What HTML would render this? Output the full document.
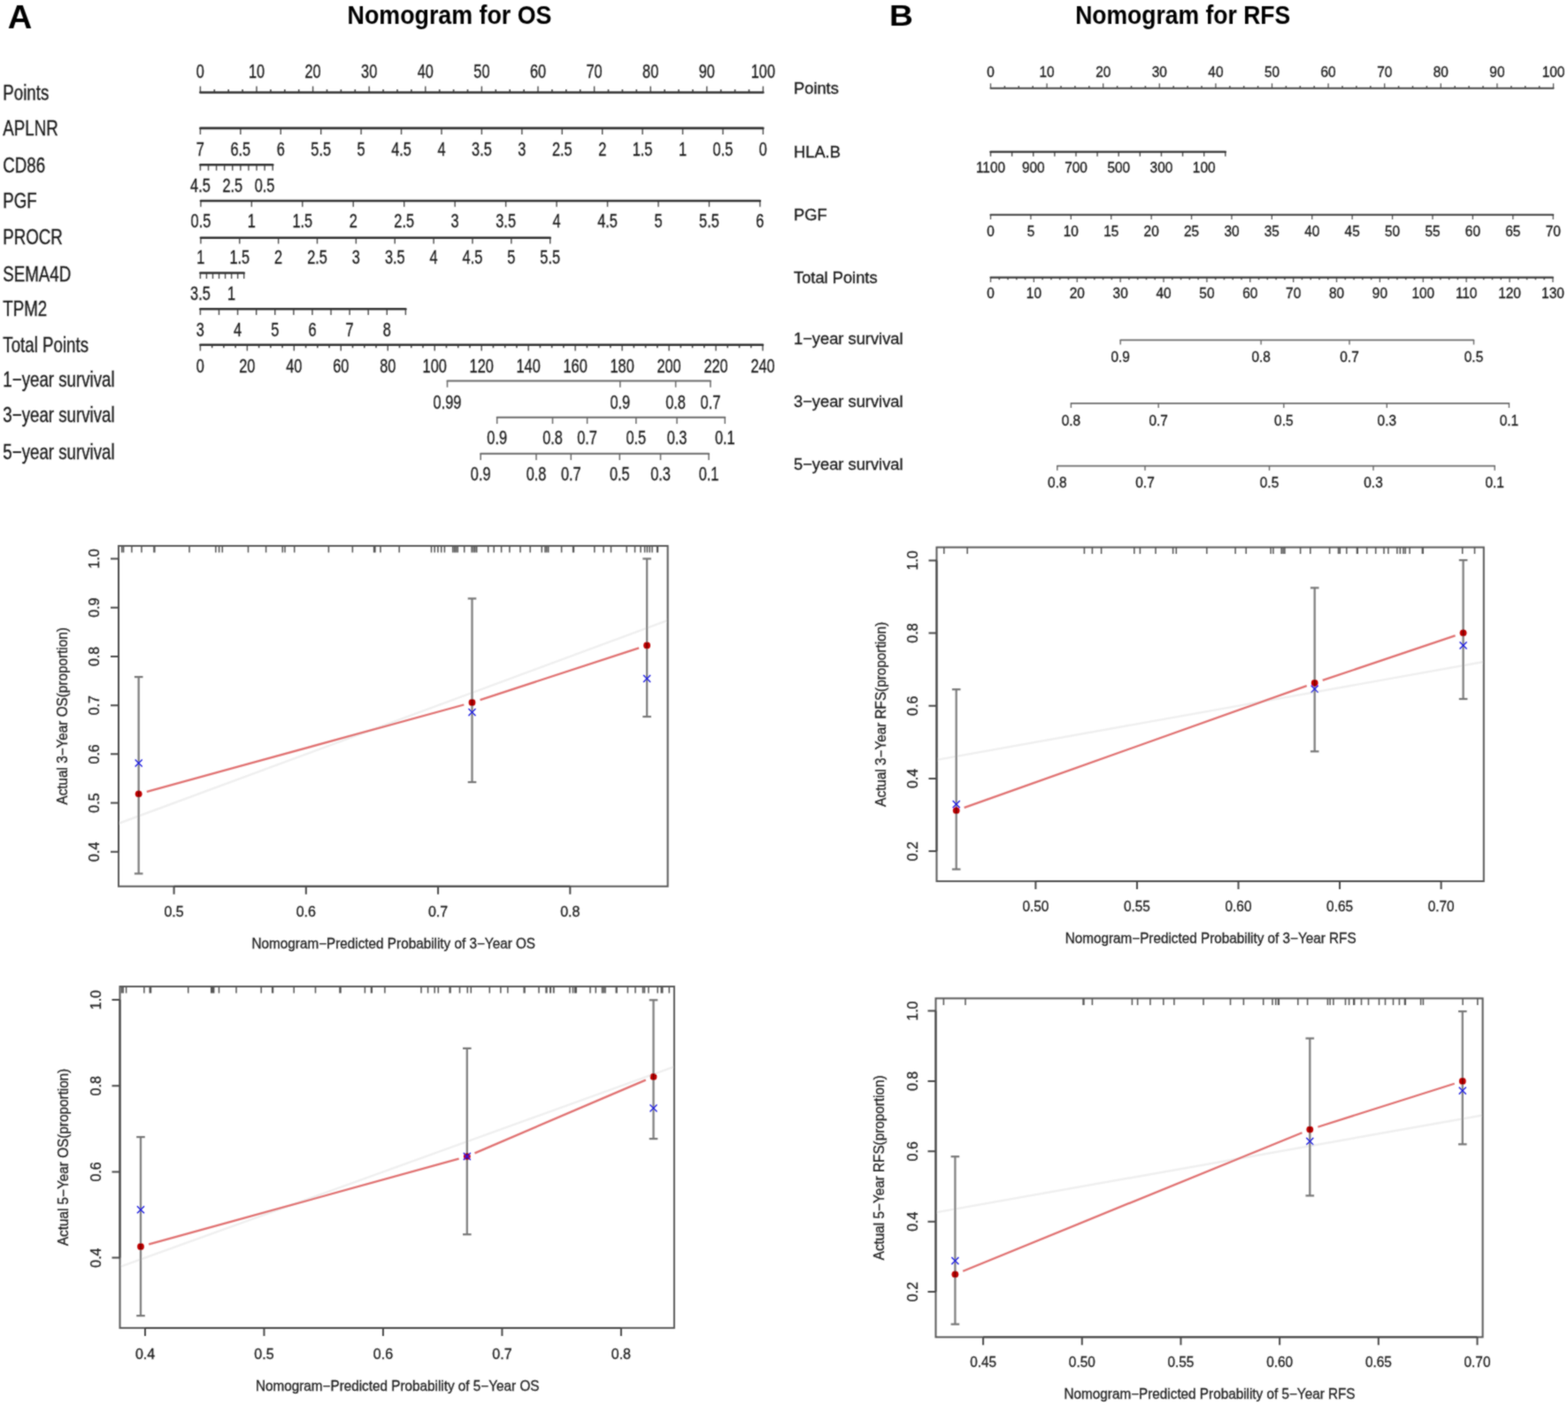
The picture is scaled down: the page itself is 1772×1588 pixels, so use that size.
<!DOCTYPE html>
<html><head><meta charset="utf-8"><title>Nomograms and calibration curves</title>
<style>
html,body{margin:0;padding:0;background:#fff;}
body{width:1772px;height:1588px;overflow:hidden;}
svg{display:block;}
text{font-family:"Liberation Sans",Arial,sans-serif;}
</style></head><body>
<svg width="1772" height="1588" viewBox="0 0 1772 1588">
<defs><filter id="soft" x="-1%" y="-1%" width="102%" height="102%"><feConvolveMatrix order="3" kernelMatrix="1 2 1 2 8 2 1 2 1" divisor="20" edgeMode="none" preserveAlpha="false"/></filter></defs>
<rect width="1772" height="1588" fill="#fff"/>
<g filter="url(#soft)">
<text transform="translate(8.8,32) scale(1.03,1)" font-size="37" fill="#000" font-weight="bold">A</text>
<text transform="translate(1005,29.3) scale(1.13,1)" font-size="33" fill="#000" font-weight="bold">B</text>
<text transform="translate(508,27.1) scale(0.9,1)" font-size="29.8" fill="#000" text-anchor="middle" font-weight="bold">Nomogram for OS</text>
<text transform="translate(1336.7,27.2) scale(0.89,1)" font-size="29.8" fill="#000" text-anchor="middle" font-weight="bold">Nomogram for RFS</text>
<text transform="translate(3.3,113) scale(0.78,1)" font-size="24" fill="#1a1a1a" stroke="#1a1a1a" stroke-width="0.3">Points</text>
<text transform="translate(3.3,153.3) scale(0.78,1)" font-size="24" fill="#1a1a1a" stroke="#1a1a1a" stroke-width="0.3">APLNR</text>
<text transform="translate(3.3,195) scale(0.78,1)" font-size="24" fill="#1a1a1a" stroke="#1a1a1a" stroke-width="0.3">CD86</text>
<text transform="translate(3.3,234.6) scale(0.78,1)" font-size="24" fill="#1a1a1a" stroke="#1a1a1a" stroke-width="0.3">PGF</text>
<text transform="translate(3.3,276) scale(0.78,1)" font-size="24" fill="#1a1a1a" stroke="#1a1a1a" stroke-width="0.3">PROCR</text>
<text transform="translate(3.3,317.5) scale(0.78,1)" font-size="24" fill="#1a1a1a" stroke="#1a1a1a" stroke-width="0.3">SEMA4D</text>
<text transform="translate(3.3,357) scale(0.78,1)" font-size="24" fill="#1a1a1a" stroke="#1a1a1a" stroke-width="0.3">TPM2</text>
<text transform="translate(3.3,398) scale(0.78,1)" font-size="24" fill="#1a1a1a" stroke="#1a1a1a" stroke-width="0.3">Total Points</text>
<text transform="translate(3.3,437.2) scale(0.78,1)" font-size="24" fill="#1a1a1a" stroke="#1a1a1a" stroke-width="0.3">1−year survival</text>
<text transform="translate(3.3,477.3) scale(0.78,1)" font-size="24" fill="#1a1a1a" stroke="#1a1a1a" stroke-width="0.3">3−year survival</text>
<text transform="translate(3.3,518.5) scale(0.78,1)" font-size="24" fill="#1a1a1a" stroke="#1a1a1a" stroke-width="0.3">5−year survival</text>
<path d="M226.4 104.5v-7M290 104.5v-7M353.6 104.5v-7M417.2 104.5v-7M480.8 104.5v-7M544.4 104.5v-7M608 104.5v-7M671.6 104.5v-7M735.2 104.5v-7M798.8 104.5v-7M862.4 104.5v-7" stroke="#4a4a4a" stroke-width="1.4" fill="none"/>
<path d="M242.3 104.5v-3.6M258.2 104.5v-3.6M274.1 104.5v-3.6M305.9 104.5v-3.6M321.8 104.5v-3.6M337.7 104.5v-3.6M369.5 104.5v-3.6M385.4 104.5v-3.6M401.3 104.5v-3.6M433.1 104.5v-3.6M449 104.5v-3.6M464.9 104.5v-3.6M496.7 104.5v-3.6M512.6 104.5v-3.6M528.5 104.5v-3.6M560.3 104.5v-3.6M576.2 104.5v-3.6M592.1 104.5v-3.6M623.9 104.5v-3.6M639.8 104.5v-3.6M655.7 104.5v-3.6M687.5 104.5v-3.6M703.4 104.5v-3.6M719.3 104.5v-3.6M751.1 104.5v-3.6M767 104.5v-3.6M782.9 104.5v-3.6M814.7 104.5v-3.6M830.6 104.5v-3.6M846.5 104.5v-3.6" stroke="#4a4a4a" stroke-width="1.6" fill="none"/>
<line x1="226.4" y1="104.5" x2="862.4" y2="104.5" stroke="#333" stroke-width="2.6" stroke-linecap="round"/>
<text transform="translate(226.4,88) scale(0.76,1)" font-size="21.5" fill="#1a1a1a" text-anchor="middle" stroke="#1a1a1a" stroke-width="0.3">0</text>
<text transform="translate(290,88) scale(0.76,1)" font-size="21.5" fill="#1a1a1a" text-anchor="middle" stroke="#1a1a1a" stroke-width="0.3">10</text>
<text transform="translate(353.6,88) scale(0.76,1)" font-size="21.5" fill="#1a1a1a" text-anchor="middle" stroke="#1a1a1a" stroke-width="0.3">20</text>
<text transform="translate(417.2,88) scale(0.76,1)" font-size="21.5" fill="#1a1a1a" text-anchor="middle" stroke="#1a1a1a" stroke-width="0.3">30</text>
<text transform="translate(480.8,88) scale(0.76,1)" font-size="21.5" fill="#1a1a1a" text-anchor="middle" stroke="#1a1a1a" stroke-width="0.3">40</text>
<text transform="translate(544.4,88) scale(0.76,1)" font-size="21.5" fill="#1a1a1a" text-anchor="middle" stroke="#1a1a1a" stroke-width="0.3">50</text>
<text transform="translate(608,88) scale(0.76,1)" font-size="21.5" fill="#1a1a1a" text-anchor="middle" stroke="#1a1a1a" stroke-width="0.3">60</text>
<text transform="translate(671.6,88) scale(0.76,1)" font-size="21.5" fill="#1a1a1a" text-anchor="middle" stroke="#1a1a1a" stroke-width="0.3">70</text>
<text transform="translate(735.2,88) scale(0.76,1)" font-size="21.5" fill="#1a1a1a" text-anchor="middle" stroke="#1a1a1a" stroke-width="0.3">80</text>
<text transform="translate(798.8,88) scale(0.76,1)" font-size="21.5" fill="#1a1a1a" text-anchor="middle" stroke="#1a1a1a" stroke-width="0.3">90</text>
<text transform="translate(862.4,88) scale(0.76,1)" font-size="21.5" fill="#1a1a1a" text-anchor="middle" stroke="#1a1a1a" stroke-width="0.3">100</text>
<path d="M226.4 144.9v7M271.83 144.9v7M317.26 144.9v7M362.69 144.9v7M408.11 144.9v7M453.54 144.9v7M498.97 144.9v7M544.4 144.9v7M589.83 144.9v7M635.26 144.9v7M680.69 144.9v7M726.11 144.9v7M771.54 144.9v7M816.97 144.9v7M862.4 144.9v7" stroke="#4a4a4a" stroke-width="1.4" fill="none"/>
<line x1="226.4" y1="144.9" x2="862.4" y2="144.9" stroke="#333" stroke-width="2.6" stroke-linecap="round"/>
<text transform="translate(226.4,176.3) scale(0.76,1)" font-size="21.5" fill="#1a1a1a" text-anchor="middle" stroke="#1a1a1a" stroke-width="0.3">7</text>
<text transform="translate(271.83,176.3) scale(0.76,1)" font-size="21.5" fill="#1a1a1a" text-anchor="middle" stroke="#1a1a1a" stroke-width="0.3">6.5</text>
<text transform="translate(317.26,176.3) scale(0.76,1)" font-size="21.5" fill="#1a1a1a" text-anchor="middle" stroke="#1a1a1a" stroke-width="0.3">6</text>
<text transform="translate(362.69,176.3) scale(0.76,1)" font-size="21.5" fill="#1a1a1a" text-anchor="middle" stroke="#1a1a1a" stroke-width="0.3">5.5</text>
<text transform="translate(408.11,176.3) scale(0.76,1)" font-size="21.5" fill="#1a1a1a" text-anchor="middle" stroke="#1a1a1a" stroke-width="0.3">5</text>
<text transform="translate(453.54,176.3) scale(0.76,1)" font-size="21.5" fill="#1a1a1a" text-anchor="middle" stroke="#1a1a1a" stroke-width="0.3">4.5</text>
<text transform="translate(498.97,176.3) scale(0.76,1)" font-size="21.5" fill="#1a1a1a" text-anchor="middle" stroke="#1a1a1a" stroke-width="0.3">4</text>
<text transform="translate(544.4,176.3) scale(0.76,1)" font-size="21.5" fill="#1a1a1a" text-anchor="middle" stroke="#1a1a1a" stroke-width="0.3">3.5</text>
<text transform="translate(589.83,176.3) scale(0.76,1)" font-size="21.5" fill="#1a1a1a" text-anchor="middle" stroke="#1a1a1a" stroke-width="0.3">3</text>
<text transform="translate(635.26,176.3) scale(0.76,1)" font-size="21.5" fill="#1a1a1a" text-anchor="middle" stroke="#1a1a1a" stroke-width="0.3">2.5</text>
<text transform="translate(680.69,176.3) scale(0.76,1)" font-size="21.5" fill="#1a1a1a" text-anchor="middle" stroke="#1a1a1a" stroke-width="0.3">2</text>
<text transform="translate(726.11,176.3) scale(0.76,1)" font-size="21.5" fill="#1a1a1a" text-anchor="middle" stroke="#1a1a1a" stroke-width="0.3">1.5</text>
<text transform="translate(771.54,176.3) scale(0.76,1)" font-size="21.5" fill="#1a1a1a" text-anchor="middle" stroke="#1a1a1a" stroke-width="0.3">1</text>
<text transform="translate(816.97,176.3) scale(0.76,1)" font-size="21.5" fill="#1a1a1a" text-anchor="middle" stroke="#1a1a1a" stroke-width="0.3">0.5</text>
<text transform="translate(862.4,176.3) scale(0.76,1)" font-size="21.5" fill="#1a1a1a" text-anchor="middle" stroke="#1a1a1a" stroke-width="0.3">0</text>
<path d="M226.4 186.3v6.5M235.49 186.3v6.5M244.58 186.3v6.5M253.67 186.3v6.5M262.76 186.3v6.5M271.84 186.3v6.5M280.93 186.3v6.5M290.02 186.3v6.5M299.11 186.3v6.5M308.2 186.3v6.5" stroke="#4a4a4a" stroke-width="1.4" fill="none"/>
<line x1="226.4" y1="186.3" x2="308.2" y2="186.3" stroke="#333" stroke-width="2.6" stroke-linecap="round"/>
<text transform="translate(226.4,216.6) scale(0.76,1)" font-size="21.5" fill="#1a1a1a" text-anchor="middle" stroke="#1a1a1a" stroke-width="0.3">4.5</text>
<text transform="translate(262.76,216.6) scale(0.76,1)" font-size="21.5" fill="#1a1a1a" text-anchor="middle" stroke="#1a1a1a" stroke-width="0.3">2.5</text>
<text transform="translate(299.11,216.6) scale(0.76,1)" font-size="21.5" fill="#1a1a1a" text-anchor="middle" stroke="#1a1a1a" stroke-width="0.3">0.5</text>
<path d="M226.9 227v6.8M284.35 227v6.8M341.81 227v6.8M399.26 227v6.8M456.72 227v6.8M514.17 227v6.8M571.63 227v6.8M629.08 227v6.8M686.54 227v6.8M743.99 227v6.8M801.45 227v6.8M858.9 227v6.8" stroke="#4a4a4a" stroke-width="1.4" fill="none"/>
<line x1="226.9" y1="227" x2="858.9" y2="227" stroke="#333" stroke-width="2.6" stroke-linecap="round"/>
<text transform="translate(226.9,257.2) scale(0.76,1)" font-size="21.5" fill="#1a1a1a" text-anchor="middle" stroke="#1a1a1a" stroke-width="0.3">0.5</text>
<text transform="translate(284.35,257.2) scale(0.76,1)" font-size="21.5" fill="#1a1a1a" text-anchor="middle" stroke="#1a1a1a" stroke-width="0.3">1</text>
<text transform="translate(341.81,257.2) scale(0.76,1)" font-size="21.5" fill="#1a1a1a" text-anchor="middle" stroke="#1a1a1a" stroke-width="0.3">1.5</text>
<text transform="translate(399.26,257.2) scale(0.76,1)" font-size="21.5" fill="#1a1a1a" text-anchor="middle" stroke="#1a1a1a" stroke-width="0.3">2</text>
<text transform="translate(456.72,257.2) scale(0.76,1)" font-size="21.5" fill="#1a1a1a" text-anchor="middle" stroke="#1a1a1a" stroke-width="0.3">2.5</text>
<text transform="translate(514.17,257.2) scale(0.76,1)" font-size="21.5" fill="#1a1a1a" text-anchor="middle" stroke="#1a1a1a" stroke-width="0.3">3</text>
<text transform="translate(571.63,257.2) scale(0.76,1)" font-size="21.5" fill="#1a1a1a" text-anchor="middle" stroke="#1a1a1a" stroke-width="0.3">3.5</text>
<text transform="translate(629.08,257.2) scale(0.76,1)" font-size="21.5" fill="#1a1a1a" text-anchor="middle" stroke="#1a1a1a" stroke-width="0.3">4</text>
<text transform="translate(686.54,257.2) scale(0.76,1)" font-size="21.5" fill="#1a1a1a" text-anchor="middle" stroke="#1a1a1a" stroke-width="0.3">4.5</text>
<text transform="translate(743.99,257.2) scale(0.76,1)" font-size="21.5" fill="#1a1a1a" text-anchor="middle" stroke="#1a1a1a" stroke-width="0.3">5</text>
<text transform="translate(801.45,257.2) scale(0.76,1)" font-size="21.5" fill="#1a1a1a" text-anchor="middle" stroke="#1a1a1a" stroke-width="0.3">5.5</text>
<text transform="translate(858.9,257.2) scale(0.76,1)" font-size="21.5" fill="#1a1a1a" text-anchor="middle" stroke="#1a1a1a" stroke-width="0.3">6</text>
<path d="M226.9 268.8v6.8M270.77 268.8v6.8M314.63 268.8v6.8M358.5 268.8v6.8M402.37 268.8v6.8M446.23 268.8v6.8M490.1 268.8v6.8M533.97 268.8v6.8M577.83 268.8v6.8M621.7 268.8v6.8" stroke="#4a4a4a" stroke-width="1.4" fill="none"/>
<line x1="226.9" y1="268.8" x2="621.7" y2="268.8" stroke="#333" stroke-width="2.6" stroke-linecap="round"/>
<text transform="translate(226.9,298.3) scale(0.76,1)" font-size="21.5" fill="#1a1a1a" text-anchor="middle" stroke="#1a1a1a" stroke-width="0.3">1</text>
<text transform="translate(270.77,298.3) scale(0.76,1)" font-size="21.5" fill="#1a1a1a" text-anchor="middle" stroke="#1a1a1a" stroke-width="0.3">1.5</text>
<text transform="translate(314.63,298.3) scale(0.76,1)" font-size="21.5" fill="#1a1a1a" text-anchor="middle" stroke="#1a1a1a" stroke-width="0.3">2</text>
<text transform="translate(358.5,298.3) scale(0.76,1)" font-size="21.5" fill="#1a1a1a" text-anchor="middle" stroke="#1a1a1a" stroke-width="0.3">2.5</text>
<text transform="translate(402.37,298.3) scale(0.76,1)" font-size="21.5" fill="#1a1a1a" text-anchor="middle" stroke="#1a1a1a" stroke-width="0.3">3</text>
<text transform="translate(446.23,298.3) scale(0.76,1)" font-size="21.5" fill="#1a1a1a" text-anchor="middle" stroke="#1a1a1a" stroke-width="0.3">3.5</text>
<text transform="translate(490.1,298.3) scale(0.76,1)" font-size="21.5" fill="#1a1a1a" text-anchor="middle" stroke="#1a1a1a" stroke-width="0.3">4</text>
<text transform="translate(533.97,298.3) scale(0.76,1)" font-size="21.5" fill="#1a1a1a" text-anchor="middle" stroke="#1a1a1a" stroke-width="0.3">4.5</text>
<text transform="translate(577.83,298.3) scale(0.76,1)" font-size="21.5" fill="#1a1a1a" text-anchor="middle" stroke="#1a1a1a" stroke-width="0.3">5</text>
<text transform="translate(621.7,298.3) scale(0.76,1)" font-size="21.5" fill="#1a1a1a" text-anchor="middle" stroke="#1a1a1a" stroke-width="0.3">5.5</text>
<path d="M226.4 308.5v6.6M233.44 308.5v6.6M240.49 308.5v6.6M247.53 308.5v6.6M254.57 308.5v6.6M261.61 308.5v6.6M268.66 308.5v6.6M275.7 308.5v6.6" stroke="#4a4a4a" stroke-width="1.4" fill="none"/>
<line x1="226.4" y1="308.5" x2="275.7" y2="308.5" stroke="#333" stroke-width="2.6" stroke-linecap="round"/>
<text transform="translate(226.4,339.4) scale(0.76,1)" font-size="21.5" fill="#1a1a1a" text-anchor="middle" stroke="#1a1a1a" stroke-width="0.3">3.5</text>
<text transform="translate(261.61,339.4) scale(0.76,1)" font-size="21.5" fill="#1a1a1a" text-anchor="middle" stroke="#1a1a1a" stroke-width="0.3">1</text>
<path d="M226.4 349.3v6.8M247.49 349.3v6.8M268.58 349.3v6.8M289.67 349.3v6.8M310.76 349.3v6.8M331.85 349.3v6.8M352.95 349.3v6.8M374.04 349.3v6.8M395.13 349.3v6.8M416.22 349.3v6.8M437.31 349.3v6.8M458.4 349.3v6.8" stroke="#4a4a4a" stroke-width="1.4" fill="none"/>
<line x1="226.4" y1="349.3" x2="458.4" y2="349.3" stroke="#333" stroke-width="2.6" stroke-linecap="round"/>
<text transform="translate(226.4,380.4) scale(0.76,1)" font-size="21.5" fill="#1a1a1a" text-anchor="middle" stroke="#1a1a1a" stroke-width="0.3">3</text>
<text transform="translate(268.58,380.4) scale(0.76,1)" font-size="21.5" fill="#1a1a1a" text-anchor="middle" stroke="#1a1a1a" stroke-width="0.3">4</text>
<text transform="translate(310.76,380.4) scale(0.76,1)" font-size="21.5" fill="#1a1a1a" text-anchor="middle" stroke="#1a1a1a" stroke-width="0.3">5</text>
<text transform="translate(352.95,380.4) scale(0.76,1)" font-size="21.5" fill="#1a1a1a" text-anchor="middle" stroke="#1a1a1a" stroke-width="0.3">6</text>
<text transform="translate(395.13,380.4) scale(0.76,1)" font-size="21.5" fill="#1a1a1a" text-anchor="middle" stroke="#1a1a1a" stroke-width="0.3">7</text>
<text transform="translate(437.31,380.4) scale(0.76,1)" font-size="21.5" fill="#1a1a1a" text-anchor="middle" stroke="#1a1a1a" stroke-width="0.3">8</text>
<path d="M226.4 389.8v6.8M279.37 389.8v6.8M332.33 389.8v6.8M385.3 389.8v6.8M438.27 389.8v6.8M491.23 389.8v6.8M544.2 389.8v6.8M597.17 389.8v6.8M650.13 389.8v6.8M703.1 389.8v6.8M756.07 389.8v6.8M809.03 389.8v6.8M862 389.8v6.8" stroke="#4a4a4a" stroke-width="1.4" fill="none"/>
<path d="M239.64 389.8v3.4M252.88 389.8v3.4M266.12 389.8v3.4M292.61 389.8v3.4M305.85 389.8v3.4M319.09 389.8v3.4M345.57 389.8v3.4M358.82 389.8v3.4M372.06 389.8v3.4M398.54 389.8v3.4M411.78 389.8v3.4M425.02 389.8v3.4M451.51 389.8v3.4M464.75 389.8v3.4M477.99 389.8v3.4M504.47 389.8v3.4M517.72 389.8v3.4M530.96 389.8v3.4M557.44 389.8v3.4M570.68 389.8v3.4M583.92 389.8v3.4M610.41 389.8v3.4M623.65 389.8v3.4M636.89 389.8v3.4M663.38 389.8v3.4M676.62 389.8v3.4M689.86 389.8v3.4M716.34 389.8v3.4M729.58 389.8v3.4M742.82 389.8v3.4M769.31 389.8v3.4M782.55 389.8v3.4M795.79 389.8v3.4M822.27 389.8v3.4M835.52 389.8v3.4M848.76 389.8v3.4" stroke="#4a4a4a" stroke-width="1.6" fill="none"/>
<line x1="226.4" y1="389.8" x2="862" y2="389.8" stroke="#333" stroke-width="2.6" stroke-linecap="round"/>
<text transform="translate(226.4,420.8) scale(0.76,1)" font-size="21.5" fill="#1a1a1a" text-anchor="middle" stroke="#1a1a1a" stroke-width="0.3">0</text>
<text transform="translate(279.37,420.8) scale(0.76,1)" font-size="21.5" fill="#1a1a1a" text-anchor="middle" stroke="#1a1a1a" stroke-width="0.3">20</text>
<text transform="translate(332.33,420.8) scale(0.76,1)" font-size="21.5" fill="#1a1a1a" text-anchor="middle" stroke="#1a1a1a" stroke-width="0.3">40</text>
<text transform="translate(385.3,420.8) scale(0.76,1)" font-size="21.5" fill="#1a1a1a" text-anchor="middle" stroke="#1a1a1a" stroke-width="0.3">60</text>
<text transform="translate(438.27,420.8) scale(0.76,1)" font-size="21.5" fill="#1a1a1a" text-anchor="middle" stroke="#1a1a1a" stroke-width="0.3">80</text>
<text transform="translate(491.23,420.8) scale(0.76,1)" font-size="21.5" fill="#1a1a1a" text-anchor="middle" stroke="#1a1a1a" stroke-width="0.3">100</text>
<text transform="translate(544.2,420.8) scale(0.76,1)" font-size="21.5" fill="#1a1a1a" text-anchor="middle" stroke="#1a1a1a" stroke-width="0.3">120</text>
<text transform="translate(597.17,420.8) scale(0.76,1)" font-size="21.5" fill="#1a1a1a" text-anchor="middle" stroke="#1a1a1a" stroke-width="0.3">140</text>
<text transform="translate(650.13,420.8) scale(0.76,1)" font-size="21.5" fill="#1a1a1a" text-anchor="middle" stroke="#1a1a1a" stroke-width="0.3">160</text>
<text transform="translate(703.1,420.8) scale(0.76,1)" font-size="21.5" fill="#1a1a1a" text-anchor="middle" stroke="#1a1a1a" stroke-width="0.3">180</text>
<text transform="translate(756.07,420.8) scale(0.76,1)" font-size="21.5" fill="#1a1a1a" text-anchor="middle" stroke="#1a1a1a" stroke-width="0.3">200</text>
<text transform="translate(809.03,420.8) scale(0.76,1)" font-size="21.5" fill="#1a1a1a" text-anchor="middle" stroke="#1a1a1a" stroke-width="0.3">220</text>
<text transform="translate(862,420.8) scale(0.76,1)" font-size="21.5" fill="#1a1a1a" text-anchor="middle" stroke="#1a1a1a" stroke-width="0.3">240</text>
<path d="M505.5 430.6v7.2M700.8 430.6v7.2M763.6 430.6v7.2M802.9 430.6v7.2" stroke="#6a6a6a" stroke-width="1.5" fill="none"/>
<line x1="505.5" y1="430.6" x2="802.9" y2="430.6" stroke="#6a6a6a" stroke-width="2" stroke-linecap="round"/>
<text transform="translate(505.5,461.8) scale(0.76,1)" font-size="21.5" fill="#1a1a1a" text-anchor="middle" stroke="#1a1a1a" stroke-width="0.3">0.99</text>
<text transform="translate(700.8,461.8) scale(0.76,1)" font-size="21.5" fill="#1a1a1a" text-anchor="middle" stroke="#1a1a1a" stroke-width="0.3">0.9</text>
<text transform="translate(763.6,461.8) scale(0.76,1)" font-size="21.5" fill="#1a1a1a" text-anchor="middle" stroke="#1a1a1a" stroke-width="0.3">0.8</text>
<text transform="translate(802.9,461.8) scale(0.76,1)" font-size="21.5" fill="#1a1a1a" text-anchor="middle" stroke="#1a1a1a" stroke-width="0.3">0.7</text>
<path d="M561.7 471.7v7.2M624.5 471.7v7.2M663.6 471.7v7.2M718.8 471.7v7.2M765 471.7v7.2M819.3 471.7v7.2" stroke="#6a6a6a" stroke-width="1.5" fill="none"/>
<line x1="561.7" y1="471.7" x2="819.3" y2="471.7" stroke="#6a6a6a" stroke-width="2" stroke-linecap="round"/>
<text transform="translate(561.7,502) scale(0.76,1)" font-size="21.5" fill="#1a1a1a" text-anchor="middle" stroke="#1a1a1a" stroke-width="0.3">0.9</text>
<text transform="translate(624.5,502) scale(0.76,1)" font-size="21.5" fill="#1a1a1a" text-anchor="middle" stroke="#1a1a1a" stroke-width="0.3">0.8</text>
<text transform="translate(663.6,502) scale(0.76,1)" font-size="21.5" fill="#1a1a1a" text-anchor="middle" stroke="#1a1a1a" stroke-width="0.3">0.7</text>
<text transform="translate(718.8,502) scale(0.76,1)" font-size="21.5" fill="#1a1a1a" text-anchor="middle" stroke="#1a1a1a" stroke-width="0.3">0.5</text>
<text transform="translate(765,502) scale(0.76,1)" font-size="21.5" fill="#1a1a1a" text-anchor="middle" stroke="#1a1a1a" stroke-width="0.3">0.3</text>
<text transform="translate(819.3,502) scale(0.76,1)" font-size="21.5" fill="#1a1a1a" text-anchor="middle" stroke="#1a1a1a" stroke-width="0.3">0.1</text>
<path d="M543.2 512.7v7.2M606 512.7v7.2M645.3 512.7v7.2M700.3 512.7v7.2M746.5 512.7v7.2M801 512.7v7.2" stroke="#6a6a6a" stroke-width="1.5" fill="none"/>
<line x1="543.2" y1="512.7" x2="801" y2="512.7" stroke="#6a6a6a" stroke-width="2" stroke-linecap="round"/>
<text transform="translate(543.2,543.4) scale(0.76,1)" font-size="21.5" fill="#1a1a1a" text-anchor="middle" stroke="#1a1a1a" stroke-width="0.3">0.9</text>
<text transform="translate(606,543.4) scale(0.76,1)" font-size="21.5" fill="#1a1a1a" text-anchor="middle" stroke="#1a1a1a" stroke-width="0.3">0.8</text>
<text transform="translate(645.3,543.4) scale(0.76,1)" font-size="21.5" fill="#1a1a1a" text-anchor="middle" stroke="#1a1a1a" stroke-width="0.3">0.7</text>
<text transform="translate(700.3,543.4) scale(0.76,1)" font-size="21.5" fill="#1a1a1a" text-anchor="middle" stroke="#1a1a1a" stroke-width="0.3">0.5</text>
<text transform="translate(746.5,543.4) scale(0.76,1)" font-size="21.5" fill="#1a1a1a" text-anchor="middle" stroke="#1a1a1a" stroke-width="0.3">0.3</text>
<text transform="translate(801,543.4) scale(0.76,1)" font-size="21.5" fill="#1a1a1a" text-anchor="middle" stroke="#1a1a1a" stroke-width="0.3">0.1</text>
<text transform="translate(897,106.2) scale(0.99,1)" font-size="18.5" fill="#1a1a1a" stroke="#1a1a1a" stroke-width="0.3">Points</text>
<text transform="translate(897,178.2) scale(0.99,1)" font-size="18.5" fill="#1a1a1a" stroke="#1a1a1a" stroke-width="0.3">HLA.B</text>
<text transform="translate(897,249.4) scale(0.99,1)" font-size="18.5" fill="#1a1a1a" stroke="#1a1a1a" stroke-width="0.3">PGF</text>
<text transform="translate(897,319.8) scale(0.99,1)" font-size="18.5" fill="#1a1a1a" stroke="#1a1a1a" stroke-width="0.3">Total Points</text>
<text transform="translate(897,389) scale(0.99,1)" font-size="18.5" fill="#1a1a1a" stroke="#1a1a1a" stroke-width="0.3">1−year survival</text>
<text transform="translate(897,460.1) scale(0.99,1)" font-size="18.5" fill="#1a1a1a" stroke="#1a1a1a" stroke-width="0.3">3−year survival</text>
<text transform="translate(897,530.7) scale(0.99,1)" font-size="18.5" fill="#1a1a1a" stroke="#1a1a1a" stroke-width="0.3">5−year survival</text>
<path d="M1119.5 99.8v-5.6M1183.1 99.8v-5.6M1246.7 99.8v-5.6M1310.3 99.8v-5.6M1373.9 99.8v-5.6M1437.5 99.8v-5.6M1501.1 99.8v-5.6M1564.7 99.8v-5.6M1628.3 99.8v-5.6M1691.9 99.8v-5.6M1755.5 99.8v-5.6" stroke="#555" stroke-width="1.3" fill="none"/>
<path d="M1135.4 99.8v-2.8M1151.3 99.8v-2.8M1167.2 99.8v-2.8M1199 99.8v-2.8M1214.9 99.8v-2.8M1230.8 99.8v-2.8M1262.6 99.8v-2.8M1278.5 99.8v-2.8M1294.4 99.8v-2.8M1326.2 99.8v-2.8M1342.1 99.8v-2.8M1358 99.8v-2.8M1389.8 99.8v-2.8M1405.7 99.8v-2.8M1421.6 99.8v-2.8M1453.4 99.8v-2.8M1469.3 99.8v-2.8M1485.2 99.8v-2.8M1517 99.8v-2.8M1532.9 99.8v-2.8M1548.8 99.8v-2.8M1580.6 99.8v-2.8M1596.5 99.8v-2.8M1612.4 99.8v-2.8M1644.2 99.8v-2.8M1660.1 99.8v-2.8M1676 99.8v-2.8M1707.8 99.8v-2.8M1723.7 99.8v-2.8M1739.6 99.8v-2.8" stroke="#555" stroke-width="1.5" fill="none"/>
<line x1="1119.5" y1="99.8" x2="1755.5" y2="99.8" stroke="#444" stroke-width="2" stroke-linecap="round"/>
<text transform="translate(1119.5,87) scale(0.95,1)" font-size="16.2" fill="#1a1a1a" text-anchor="middle" stroke="#1a1a1a" stroke-width="0.3">0</text>
<text transform="translate(1183.1,87) scale(0.95,1)" font-size="16.2" fill="#1a1a1a" text-anchor="middle" stroke="#1a1a1a" stroke-width="0.3">10</text>
<text transform="translate(1246.7,87) scale(0.95,1)" font-size="16.2" fill="#1a1a1a" text-anchor="middle" stroke="#1a1a1a" stroke-width="0.3">20</text>
<text transform="translate(1310.3,87) scale(0.95,1)" font-size="16.2" fill="#1a1a1a" text-anchor="middle" stroke="#1a1a1a" stroke-width="0.3">30</text>
<text transform="translate(1373.9,87) scale(0.95,1)" font-size="16.2" fill="#1a1a1a" text-anchor="middle" stroke="#1a1a1a" stroke-width="0.3">40</text>
<text transform="translate(1437.5,87) scale(0.95,1)" font-size="16.2" fill="#1a1a1a" text-anchor="middle" stroke="#1a1a1a" stroke-width="0.3">50</text>
<text transform="translate(1501.1,87) scale(0.95,1)" font-size="16.2" fill="#1a1a1a" text-anchor="middle" stroke="#1a1a1a" stroke-width="0.3">60</text>
<text transform="translate(1564.7,87) scale(0.95,1)" font-size="16.2" fill="#1a1a1a" text-anchor="middle" stroke="#1a1a1a" stroke-width="0.3">70</text>
<text transform="translate(1628.3,87) scale(0.95,1)" font-size="16.2" fill="#1a1a1a" text-anchor="middle" stroke="#1a1a1a" stroke-width="0.3">80</text>
<text transform="translate(1691.9,87) scale(0.95,1)" font-size="16.2" fill="#1a1a1a" text-anchor="middle" stroke="#1a1a1a" stroke-width="0.3">90</text>
<text transform="translate(1755.5,87) scale(0.95,1)" font-size="16.2" fill="#1a1a1a" text-anchor="middle" stroke="#1a1a1a" stroke-width="0.3">100</text>
<path d="M1119.5 171.6v5.2M1143.62 171.6v5.2M1167.74 171.6v5.2M1191.85 171.6v5.2M1215.97 171.6v5.2M1240.09 171.6v5.2M1264.21 171.6v5.2M1288.33 171.6v5.2M1312.45 171.6v5.2M1336.56 171.6v5.2M1360.68 171.6v5.2M1384.8 171.6v5.2" stroke="#4a4a4a" stroke-width="1.4" fill="none"/>
<line x1="1119.5" y1="171.6" x2="1384.8" y2="171.6" stroke="#333" stroke-width="2.4" stroke-linecap="round"/>
<text transform="translate(1119.5,195.3) scale(0.95,1)" font-size="16.2" fill="#1a1a1a" text-anchor="middle" stroke="#1a1a1a" stroke-width="0.3">1100</text>
<text transform="translate(1167.74,195.3) scale(0.95,1)" font-size="16.2" fill="#1a1a1a" text-anchor="middle" stroke="#1a1a1a" stroke-width="0.3">900</text>
<text transform="translate(1215.97,195.3) scale(0.95,1)" font-size="16.2" fill="#1a1a1a" text-anchor="middle" stroke="#1a1a1a" stroke-width="0.3">700</text>
<text transform="translate(1264.21,195.3) scale(0.95,1)" font-size="16.2" fill="#1a1a1a" text-anchor="middle" stroke="#1a1a1a" stroke-width="0.3">500</text>
<text transform="translate(1312.45,195.3) scale(0.95,1)" font-size="16.2" fill="#1a1a1a" text-anchor="middle" stroke="#1a1a1a" stroke-width="0.3">300</text>
<text transform="translate(1360.68,195.3) scale(0.95,1)" font-size="16.2" fill="#1a1a1a" text-anchor="middle" stroke="#1a1a1a" stroke-width="0.3">100</text>
<path d="M1119.5 242.8v5.2M1164.91 242.8v5.2M1210.31 242.8v5.2M1255.72 242.8v5.2M1301.13 242.8v5.2M1346.54 242.8v5.2M1391.94 242.8v5.2M1437.35 242.8v5.2M1482.76 242.8v5.2M1528.16 242.8v5.2M1573.57 242.8v5.2M1618.98 242.8v5.2M1664.39 242.8v5.2M1709.79 242.8v5.2M1755.2 242.8v5.2" stroke="#555" stroke-width="1.3" fill="none"/>
<line x1="1119.5" y1="242.8" x2="1755.2" y2="242.8" stroke="#3c3c3c" stroke-width="2.1" stroke-linecap="round"/>
<text transform="translate(1119.5,266.9) scale(0.95,1)" font-size="16.2" fill="#1a1a1a" text-anchor="middle" stroke="#1a1a1a" stroke-width="0.3">0</text>
<text transform="translate(1164.91,266.9) scale(0.95,1)" font-size="16.2" fill="#1a1a1a" text-anchor="middle" stroke="#1a1a1a" stroke-width="0.3">5</text>
<text transform="translate(1210.31,266.9) scale(0.95,1)" font-size="16.2" fill="#1a1a1a" text-anchor="middle" stroke="#1a1a1a" stroke-width="0.3">10</text>
<text transform="translate(1255.72,266.9) scale(0.95,1)" font-size="16.2" fill="#1a1a1a" text-anchor="middle" stroke="#1a1a1a" stroke-width="0.3">15</text>
<text transform="translate(1301.13,266.9) scale(0.95,1)" font-size="16.2" fill="#1a1a1a" text-anchor="middle" stroke="#1a1a1a" stroke-width="0.3">20</text>
<text transform="translate(1346.54,266.9) scale(0.95,1)" font-size="16.2" fill="#1a1a1a" text-anchor="middle" stroke="#1a1a1a" stroke-width="0.3">25</text>
<text transform="translate(1391.94,266.9) scale(0.95,1)" font-size="16.2" fill="#1a1a1a" text-anchor="middle" stroke="#1a1a1a" stroke-width="0.3">30</text>
<text transform="translate(1437.35,266.9) scale(0.95,1)" font-size="16.2" fill="#1a1a1a" text-anchor="middle" stroke="#1a1a1a" stroke-width="0.3">35</text>
<text transform="translate(1482.76,266.9) scale(0.95,1)" font-size="16.2" fill="#1a1a1a" text-anchor="middle" stroke="#1a1a1a" stroke-width="0.3">40</text>
<text transform="translate(1528.16,266.9) scale(0.95,1)" font-size="16.2" fill="#1a1a1a" text-anchor="middle" stroke="#1a1a1a" stroke-width="0.3">45</text>
<text transform="translate(1573.57,266.9) scale(0.95,1)" font-size="16.2" fill="#1a1a1a" text-anchor="middle" stroke="#1a1a1a" stroke-width="0.3">50</text>
<text transform="translate(1618.98,266.9) scale(0.95,1)" font-size="16.2" fill="#1a1a1a" text-anchor="middle" stroke="#1a1a1a" stroke-width="0.3">55</text>
<text transform="translate(1664.39,266.9) scale(0.95,1)" font-size="16.2" fill="#1a1a1a" text-anchor="middle" stroke="#1a1a1a" stroke-width="0.3">60</text>
<text transform="translate(1709.79,266.9) scale(0.95,1)" font-size="16.2" fill="#1a1a1a" text-anchor="middle" stroke="#1a1a1a" stroke-width="0.3">65</text>
<text transform="translate(1755.2,266.9) scale(0.95,1)" font-size="16.2" fill="#1a1a1a" text-anchor="middle" stroke="#1a1a1a" stroke-width="0.3">70</text>
<path d="M1119.5 313.6v5.4M1168.38 313.6v5.4M1217.25 313.6v5.4M1266.13 313.6v5.4M1315.01 313.6v5.4M1363.88 313.6v5.4M1412.76 313.6v5.4M1461.64 313.6v5.4M1510.52 313.6v5.4M1559.39 313.6v5.4M1608.27 313.6v5.4M1657.15 313.6v5.4M1706.02 313.6v5.4M1754.9 313.6v5.4" stroke="#555" stroke-width="1.3" fill="none"/>
<path d="M1129.28 313.6v2.6M1139.05 313.6v2.6M1148.83 313.6v2.6M1158.6 313.6v2.6M1178.15 313.6v2.6M1187.93 313.6v2.6M1197.7 313.6v2.6M1207.48 313.6v2.6M1227.03 313.6v2.6M1236.8 313.6v2.6M1246.58 313.6v2.6M1256.36 313.6v2.6M1275.91 313.6v2.6M1285.68 313.6v2.6M1295.46 313.6v2.6M1305.23 313.6v2.6M1324.78 313.6v2.6M1334.56 313.6v2.6M1344.33 313.6v2.6M1354.11 313.6v2.6M1373.66 313.6v2.6M1383.44 313.6v2.6M1393.21 313.6v2.6M1402.99 313.6v2.6M1422.54 313.6v2.6M1432.31 313.6v2.6M1442.09 313.6v2.6M1451.86 313.6v2.6M1471.41 313.6v2.6M1481.19 313.6v2.6M1490.96 313.6v2.6M1500.74 313.6v2.6M1520.29 313.6v2.6M1530.07 313.6v2.6M1539.84 313.6v2.6M1549.62 313.6v2.6M1569.17 313.6v2.6M1578.94 313.6v2.6M1588.72 313.6v2.6M1598.49 313.6v2.6M1618.04 313.6v2.6M1627.82 313.6v2.6M1637.6 313.6v2.6M1647.37 313.6v2.6M1666.92 313.6v2.6M1676.7 313.6v2.6M1686.47 313.6v2.6M1696.25 313.6v2.6M1715.8 313.6v2.6M1725.57 313.6v2.6M1735.35 313.6v2.6M1745.12 313.6v2.6" stroke="#555" stroke-width="1.5" fill="none"/>
<line x1="1119.5" y1="313.6" x2="1754.9" y2="313.6" stroke="#3c3c3c" stroke-width="2.1" stroke-linecap="round"/>
<text transform="translate(1119.5,337.3) scale(0.95,1)" font-size="16.2" fill="#1a1a1a" text-anchor="middle" stroke="#1a1a1a" stroke-width="0.3">0</text>
<text transform="translate(1168.38,337.3) scale(0.95,1)" font-size="16.2" fill="#1a1a1a" text-anchor="middle" stroke="#1a1a1a" stroke-width="0.3">10</text>
<text transform="translate(1217.25,337.3) scale(0.95,1)" font-size="16.2" fill="#1a1a1a" text-anchor="middle" stroke="#1a1a1a" stroke-width="0.3">20</text>
<text transform="translate(1266.13,337.3) scale(0.95,1)" font-size="16.2" fill="#1a1a1a" text-anchor="middle" stroke="#1a1a1a" stroke-width="0.3">30</text>
<text transform="translate(1315.01,337.3) scale(0.95,1)" font-size="16.2" fill="#1a1a1a" text-anchor="middle" stroke="#1a1a1a" stroke-width="0.3">40</text>
<text transform="translate(1363.88,337.3) scale(0.95,1)" font-size="16.2" fill="#1a1a1a" text-anchor="middle" stroke="#1a1a1a" stroke-width="0.3">50</text>
<text transform="translate(1412.76,337.3) scale(0.95,1)" font-size="16.2" fill="#1a1a1a" text-anchor="middle" stroke="#1a1a1a" stroke-width="0.3">60</text>
<text transform="translate(1461.64,337.3) scale(0.95,1)" font-size="16.2" fill="#1a1a1a" text-anchor="middle" stroke="#1a1a1a" stroke-width="0.3">70</text>
<text transform="translate(1510.52,337.3) scale(0.95,1)" font-size="16.2" fill="#1a1a1a" text-anchor="middle" stroke="#1a1a1a" stroke-width="0.3">80</text>
<text transform="translate(1559.39,337.3) scale(0.95,1)" font-size="16.2" fill="#1a1a1a" text-anchor="middle" stroke="#1a1a1a" stroke-width="0.3">90</text>
<text transform="translate(1608.27,337.3) scale(0.95,1)" font-size="16.2" fill="#1a1a1a" text-anchor="middle" stroke="#1a1a1a" stroke-width="0.3">100</text>
<text transform="translate(1657.15,337.3) scale(0.95,1)" font-size="16.2" fill="#1a1a1a" text-anchor="middle" stroke="#1a1a1a" stroke-width="0.3">110</text>
<text transform="translate(1706.02,337.3) scale(0.95,1)" font-size="16.2" fill="#1a1a1a" text-anchor="middle" stroke="#1a1a1a" stroke-width="0.3">120</text>
<text transform="translate(1754.9,337.3) scale(0.95,1)" font-size="16.2" fill="#1a1a1a" text-anchor="middle" stroke="#1a1a1a" stroke-width="0.3">130</text>
<path d="M1266.2 384.4v5.2M1425.1 384.4v5.2M1525 384.4v5.2M1665.5 384.4v5.2" stroke="#6a6a6a" stroke-width="1.4" fill="none"/>
<line x1="1266.2" y1="384.4" x2="1665.5" y2="384.4" stroke="#6a6a6a" stroke-width="1.7" stroke-linecap="round"/>
<text transform="translate(1266.2,409) scale(0.95,1)" font-size="16.2" fill="#1a1a1a" text-anchor="middle" stroke="#1a1a1a" stroke-width="0.3">0.9</text>
<text transform="translate(1425.1,409) scale(0.95,1)" font-size="16.2" fill="#1a1a1a" text-anchor="middle" stroke="#1a1a1a" stroke-width="0.3">0.8</text>
<text transform="translate(1525,409) scale(0.95,1)" font-size="16.2" fill="#1a1a1a" text-anchor="middle" stroke="#1a1a1a" stroke-width="0.3">0.7</text>
<text transform="translate(1665.5,409) scale(0.95,1)" font-size="16.2" fill="#1a1a1a" text-anchor="middle" stroke="#1a1a1a" stroke-width="0.3">0.5</text>
<path d="M1210.4 455.8v5.2M1309.2 455.8v5.2M1450.8 455.8v5.2M1567.3 455.8v5.2M1705.4 455.8v5.2" stroke="#6a6a6a" stroke-width="1.4" fill="none"/>
<line x1="1210.4" y1="455.8" x2="1705.4" y2="455.8" stroke="#6a6a6a" stroke-width="1.7" stroke-linecap="round"/>
<text transform="translate(1210.4,480.8) scale(0.95,1)" font-size="16.2" fill="#1a1a1a" text-anchor="middle" stroke="#1a1a1a" stroke-width="0.3">0.8</text>
<text transform="translate(1309.2,480.8) scale(0.95,1)" font-size="16.2" fill="#1a1a1a" text-anchor="middle" stroke="#1a1a1a" stroke-width="0.3">0.7</text>
<text transform="translate(1450.8,480.8) scale(0.95,1)" font-size="16.2" fill="#1a1a1a" text-anchor="middle" stroke="#1a1a1a" stroke-width="0.3">0.5</text>
<text transform="translate(1567.3,480.8) scale(0.95,1)" font-size="16.2" fill="#1a1a1a" text-anchor="middle" stroke="#1a1a1a" stroke-width="0.3">0.3</text>
<text transform="translate(1705.4,480.8) scale(0.95,1)" font-size="16.2" fill="#1a1a1a" text-anchor="middle" stroke="#1a1a1a" stroke-width="0.3">0.1</text>
<path d="M1194.8 526.6v5.2M1294 526.6v5.2M1434.5 526.6v5.2M1552 526.6v5.2M1689.2 526.6v5.2" stroke="#6a6a6a" stroke-width="1.4" fill="none"/>
<line x1="1194.8" y1="526.6" x2="1689.2" y2="526.6" stroke="#6a6a6a" stroke-width="1.7" stroke-linecap="round"/>
<text transform="translate(1194.8,551.2) scale(0.95,1)" font-size="16.2" fill="#1a1a1a" text-anchor="middle" stroke="#1a1a1a" stroke-width="0.3">0.8</text>
<text transform="translate(1294,551.2) scale(0.95,1)" font-size="16.2" fill="#1a1a1a" text-anchor="middle" stroke="#1a1a1a" stroke-width="0.3">0.7</text>
<text transform="translate(1434.5,551.2) scale(0.95,1)" font-size="16.2" fill="#1a1a1a" text-anchor="middle" stroke="#1a1a1a" stroke-width="0.3">0.5</text>
<text transform="translate(1552,551.2) scale(0.95,1)" font-size="16.2" fill="#1a1a1a" text-anchor="middle" stroke="#1a1a1a" stroke-width="0.3">0.3</text>
<text transform="translate(1689.2,551.2) scale(0.95,1)" font-size="16.2" fill="#1a1a1a" text-anchor="middle" stroke="#1a1a1a" stroke-width="0.3">0.1</text>
<g>
<line x1="134" y1="930.75" x2="754.6" y2="701.12" stroke="#efefef" stroke-width="2.4" stroke-linecap="butt"/>
<line x1="156.7" y1="764.6" x2="156.7" y2="987.4" stroke="#808080" stroke-width="2.3" stroke-linecap="butt"/>
<line x1="151.9" y1="765.1" x2="161.5" y2="765.1" stroke="#777" stroke-width="2.2" stroke-linecap="butt"/>
<line x1="151.9" y1="987.4" x2="161.5" y2="987.4" stroke="#777" stroke-width="2.2" stroke-linecap="butt"/>
<line x1="533.5" y1="676" x2="533.5" y2="884" stroke="#808080" stroke-width="2.3" stroke-linecap="butt"/>
<line x1="528.7" y1="676.5" x2="538.3" y2="676.5" stroke="#777" stroke-width="2.2" stroke-linecap="butt"/>
<line x1="528.7" y1="884" x2="538.3" y2="884" stroke="#777" stroke-width="2.2" stroke-linecap="butt"/>
<line x1="731.1" y1="631" x2="731.1" y2="810" stroke="#808080" stroke-width="2.3" stroke-linecap="butt"/>
<line x1="726.3" y1="631.5" x2="735.9" y2="631.5" stroke="#777" stroke-width="2.2" stroke-linecap="butt"/>
<line x1="726.3" y1="810" x2="735.9" y2="810" stroke="#777" stroke-width="2.2" stroke-linecap="butt"/>
<line x1="165.86" y1="894.79" x2="524.34" y2="796.51" stroke="#e07070" stroke-width="2.3" stroke-linecap="butt"/>
<line x1="542.53" y1="791.05" x2="722.07" y2="732.45" stroke="#e07070" stroke-width="2.3" stroke-linecap="butt"/>
<circle cx="156.7" cy="897.3" r="3.9" fill="#c00000"/>
<line x1="156.7" y1="893.7" x2="156.7" y2="900.9" stroke="#700000" stroke-width="1.6" stroke-linecap="butt"/>
<path d="M152.7 858.4l8 8M152.7 866.4l8 -8" stroke="#1818e0" stroke-width="1.4" fill="none"/>
<circle cx="533.5" cy="794" r="3.9" fill="#c00000"/>
<line x1="533.5" y1="790.4" x2="533.5" y2="797.6" stroke="#700000" stroke-width="1.6" stroke-linecap="butt"/>
<path d="M529.5 801l8 8M529.5 809l8 -8" stroke="#1818e0" stroke-width="1.4" fill="none"/>
<circle cx="731.1" cy="729.5" r="3.9" fill="#c00000"/>
<line x1="731.1" y1="725.9" x2="731.1" y2="733.1" stroke="#700000" stroke-width="1.6" stroke-linecap="butt"/>
<path d="M727.1 763l8 8M727.1 771l8 -8" stroke="#1818e0" stroke-width="1.4" fill="none"/>
<rect x="134" y="617" width="620.6" height="384.8" fill="none" stroke="#5a5a5a" stroke-width="2.0"/>
<path d="M137.7 617v7.5M139.6 617v7.5M148.9 617v7.5M160 617v7.5M174 617v7.5M174.8 617v7.5M214 617v7.5M243.8 617v7.5M247.6 617v7.5M251.3 617v7.5M280.5 617v7.5M300.6 617v7.5M319.3 617v7.5M322 617v7.5M332.7 617v7.5M371.4 617v7.5M398.4 617v7.5M422.6 617v7.5M423.9 617v7.5M430 617v7.5M451.2 617v7.5M487.5 617v7.5M491.2 617v7.5M494.9 617v7.5M498.7 617v7.5M502.4 617v7.5M511.7 617v7.5M513.6 617v7.5M515.4 617v7.5M517.3 617v7.5M524.7 617v7.5M533.1 617v7.5M535 617v7.5M536.8 617v7.5M538.7 617v7.5M551.7 617v7.5M558.2 617v7.5M566.6 617v7.5M575.9 617v7.5M588 617v7.5M599.2 617v7.5M612.3 617v7.5M616 617v7.5M617.8 617v7.5M619.7 617v7.5M634.6 617v7.5M647.6 617v7.5M648.4 617v7.5M671.8 617v7.5M682.1 617v7.5M690.5 617v7.5M708.2 617v7.5M717.5 617v7.5M724 617v7.5M728.6 617v7.5M731.4 617v7.5M734.2 617v7.5M737 617v7.5M742.6 617v7.5M743.4 617v7.5" stroke="#555" stroke-width="1.5" fill="none"/>
<path d="M196.6 1001.8H644.3M196.6 1001.8v9M345.83 1001.8v9M495.07 1001.8v9M644.3 1001.8v9" stroke="#4a4a4a" stroke-width="2" fill="none"/>
<text transform="translate(196.6,1036.1)" font-size="16" fill="#222" text-anchor="middle" stroke="#222" stroke-width="0.3">0.5</text>
<text transform="translate(345.83,1036.1)" font-size="16" fill="#222" text-anchor="middle" stroke="#222" stroke-width="0.3">0.6</text>
<text transform="translate(495.07,1036.1)" font-size="16" fill="#222" text-anchor="middle" stroke="#222" stroke-width="0.3">0.7</text>
<text transform="translate(644.3,1036.1)" font-size="16" fill="#222" text-anchor="middle" stroke="#222" stroke-width="0.3">0.8</text>
<path d="M134 962.8V631.5M134 962.8h-9M134 907.58h-9M134 852.37h-9M134 797.15h-9M134 741.93h-9M134 686.72h-9M134 631.5h-9" stroke="#4a4a4a" stroke-width="2" fill="none"/>
<text transform="translate(112,962.8) rotate(-90)" font-size="16" fill="#222" text-anchor="middle" stroke="#222" stroke-width="0.3">0.4</text>
<text transform="translate(112,907.58) rotate(-90)" font-size="16" fill="#222" text-anchor="middle" stroke="#222" stroke-width="0.3">0.5</text>
<text transform="translate(112,852.37) rotate(-90)" font-size="16" fill="#222" text-anchor="middle" stroke="#222" stroke-width="0.3">0.6</text>
<text transform="translate(112,797.15) rotate(-90)" font-size="16" fill="#222" text-anchor="middle" stroke="#222" stroke-width="0.3">0.7</text>
<text transform="translate(112,741.93) rotate(-90)" font-size="16" fill="#222" text-anchor="middle" stroke="#222" stroke-width="0.3">0.8</text>
<text transform="translate(112,686.72) rotate(-90)" font-size="16" fill="#222" text-anchor="middle" stroke="#222" stroke-width="0.3">0.9</text>
<text transform="translate(112,631.5) rotate(-90)" font-size="16" fill="#222" text-anchor="middle" stroke="#222" stroke-width="0.3">1.0</text>
<text transform="translate(444.8,1072.2) scale(0.98,1)" font-size="15.6" fill="#222" text-anchor="middle" stroke="#222" stroke-width="0.3">Nomogram−Predicted Probability of 3−Year OS</text>
<text transform="translate(75.5,809.4) rotate(-90) scale(0.98,1)" font-size="15.6" fill="#222" text-anchor="middle" stroke="#222" stroke-width="0.3">Actual 3−Year OS(proportion)</text>
</g>
<g>
<line x1="1058.5" y1="858.91" x2="1676.8" y2="748.02" stroke="#efefef" stroke-width="2.4" stroke-linecap="butt"/>
<line x1="1080.7" y1="778.7" x2="1080.7" y2="982.5" stroke="#808080" stroke-width="2.3" stroke-linecap="butt"/>
<line x1="1075.9" y1="779.2" x2="1085.5" y2="779.2" stroke="#777" stroke-width="2.2" stroke-linecap="butt"/>
<line x1="1075.9" y1="982.5" x2="1085.5" y2="982.5" stroke="#777" stroke-width="2.2" stroke-linecap="butt"/>
<line x1="1485.7" y1="663.9" x2="1485.7" y2="849.3" stroke="#808080" stroke-width="2.3" stroke-linecap="butt"/>
<line x1="1480.9" y1="664.4" x2="1490.5" y2="664.4" stroke="#777" stroke-width="2.2" stroke-linecap="butt"/>
<line x1="1480.9" y1="849.3" x2="1490.5" y2="849.3" stroke="#777" stroke-width="2.2" stroke-linecap="butt"/>
<line x1="1653.6" y1="632.6" x2="1653.6" y2="790" stroke="#808080" stroke-width="2.3" stroke-linecap="butt"/>
<line x1="1648.8" y1="633.1" x2="1658.4" y2="633.1" stroke="#777" stroke-width="2.2" stroke-linecap="butt"/>
<line x1="1648.8" y1="790" x2="1658.4" y2="790" stroke="#777" stroke-width="2.2" stroke-linecap="butt"/>
<line x1="1089.65" y1="912.92" x2="1476.75" y2="775.18" stroke="#e07070" stroke-width="2.3" stroke-linecap="butt"/>
<line x1="1494.7" y1="768.96" x2="1644.6" y2="718.34" stroke="#e07070" stroke-width="2.3" stroke-linecap="butt"/>
<circle cx="1080.7" cy="916.1" r="3.9" fill="#c00000"/>
<line x1="1080.7" y1="912.5" x2="1080.7" y2="919.7" stroke="#700000" stroke-width="1.6" stroke-linecap="butt"/>
<path d="M1076.7 905l8 8M1076.7 913l8 -8" stroke="#1818e0" stroke-width="1.4" fill="none"/>
<circle cx="1485.7" cy="772" r="3.9" fill="#c00000"/>
<line x1="1485.7" y1="768.4" x2="1485.7" y2="775.6" stroke="#700000" stroke-width="1.6" stroke-linecap="butt"/>
<path d="M1481.7 774.7l8 8M1481.7 782.7l8 -8" stroke="#1818e0" stroke-width="1.4" fill="none"/>
<circle cx="1653.6" cy="715.3" r="3.9" fill="#c00000"/>
<line x1="1653.6" y1="711.7" x2="1653.6" y2="718.9" stroke="#700000" stroke-width="1.6" stroke-linecap="butt"/>
<path d="M1649.6 725.5l8 8M1649.6 733.5l8 -8" stroke="#1818e0" stroke-width="1.4" fill="none"/>
<rect x="1058.5" y="618.6" width="618.3" height="377.4" fill="none" stroke="#5a5a5a" stroke-width="2.0"/>
<path d="M1066.8 618.6v7.5M1093.2 618.6v7.5M1225.4 618.6v7.5M1234.4 618.6v7.5M1244.6 618.6v7.5M1281.8 618.6v7.5M1288.4 618.6v7.5M1306 618.6v7.5M1325.6 618.6v7.5M1329.3 618.6v7.5M1363.8 618.6v7.5M1396.1 618.6v7.5M1408.2 618.6v7.5M1436.1 618.6v7.5M1438.9 618.6v7.5M1448.2 618.6v7.5M1450.1 618.6v7.5M1451.9 618.6v7.5M1469.6 618.6v7.5M1480.8 618.6v7.5M1502.6 618.6v7.5M1512.5 618.6v7.5M1514.3 618.6v7.5M1521.8 618.6v7.5M1533.5 618.6v7.5M1534.3 618.6v7.5M1544.7 618.6v7.5M1554.7 618.6v7.5M1564 618.6v7.5M1568.9 618.6v7.5M1578.9 618.6v7.5M1582.3 618.6v7.5M1586 618.6v7.5M1588.2 618.6v7.5M1593.1 618.6v7.5M1607.4 618.6v7.5M1608.2 618.6v7.5M1652.7 618.6v7.5M1666.5 618.6v7.5" stroke="#555" stroke-width="1.5" fill="none"/>
<path d="M1170.4 996H1628.6M1170.4 996v9M1284.95 996v9M1399.5 996v9M1514.05 996v9M1628.6 996v9" stroke="#4a4a4a" stroke-width="2" fill="none"/>
<text transform="translate(1170.4,1030) scale(0.96,1)" font-size="16" fill="#222" text-anchor="middle" stroke="#222" stroke-width="0.3">0.50</text>
<text transform="translate(1284.95,1030) scale(0.96,1)" font-size="16" fill="#222" text-anchor="middle" stroke="#222" stroke-width="0.3">0.55</text>
<text transform="translate(1399.5,1030) scale(0.96,1)" font-size="16" fill="#222" text-anchor="middle" stroke="#222" stroke-width="0.3">0.60</text>
<text transform="translate(1514.05,1030) scale(0.96,1)" font-size="16" fill="#222" text-anchor="middle" stroke="#222" stroke-width="0.3">0.65</text>
<text transform="translate(1628.6,1030) scale(0.96,1)" font-size="16" fill="#222" text-anchor="middle" stroke="#222" stroke-width="0.3">0.70</text>
<path d="M1058.5 962.1V633.4M1058.5 962.1h-9M1058.5 879.92h-9M1058.5 797.75h-9M1058.5 715.57h-9M1058.5 633.4h-9" stroke="#4a4a4a" stroke-width="2" fill="none"/>
<text transform="translate(1037,962.1) rotate(-90)" font-size="16" fill="#222" text-anchor="middle" stroke="#222" stroke-width="0.3">0.2</text>
<text transform="translate(1037,879.92) rotate(-90)" font-size="16" fill="#222" text-anchor="middle" stroke="#222" stroke-width="0.3">0.4</text>
<text transform="translate(1037,797.75) rotate(-90)" font-size="16" fill="#222" text-anchor="middle" stroke="#222" stroke-width="0.3">0.6</text>
<text transform="translate(1037,715.57) rotate(-90)" font-size="16" fill="#222" text-anchor="middle" stroke="#222" stroke-width="0.3">0.8</text>
<text transform="translate(1037,633.4) rotate(-90)" font-size="16" fill="#222" text-anchor="middle" stroke="#222" stroke-width="0.3">1.0</text>
<text transform="translate(1368.15,1065.7) scale(0.98,1)" font-size="15.6" fill="#222" text-anchor="middle" stroke="#222" stroke-width="0.3">Nomogram−Predicted Probability of 3−Year RFS</text>
<text transform="translate(1000.5,807.3) rotate(-90) scale(0.98,1)" font-size="15.6" fill="#222" text-anchor="middle" stroke="#222" stroke-width="0.3">Actual 3−Year RFS(proportion)</text>
</g>
<g>
<line x1="135.5" y1="1431.9" x2="761.9" y2="1205.59" stroke="#efefef" stroke-width="2.4" stroke-linecap="butt"/>
<line x1="159" y1="1284.6" x2="159" y2="1487.1" stroke="#808080" stroke-width="2.3" stroke-linecap="butt"/>
<line x1="154.2" y1="1285.1" x2="163.8" y2="1285.1" stroke="#777" stroke-width="2.2" stroke-linecap="butt"/>
<line x1="154.2" y1="1487.1" x2="163.8" y2="1487.1" stroke="#777" stroke-width="2.2" stroke-linecap="butt"/>
<line x1="527.8" y1="1184.4" x2="527.8" y2="1395.2" stroke="#808080" stroke-width="2.3" stroke-linecap="butt"/>
<line x1="523" y1="1184.9" x2="532.6" y2="1184.9" stroke="#777" stroke-width="2.2" stroke-linecap="butt"/>
<line x1="523" y1="1395.2" x2="532.6" y2="1395.2" stroke="#777" stroke-width="2.2" stroke-linecap="butt"/>
<line x1="738.5" y1="1129.8" x2="738.5" y2="1287.1" stroke="#808080" stroke-width="2.3" stroke-linecap="butt"/>
<line x1="733.7" y1="1130.3" x2="743.3" y2="1130.3" stroke="#777" stroke-width="2.2" stroke-linecap="butt"/>
<line x1="733.7" y1="1287.1" x2="743.3" y2="1287.1" stroke="#777" stroke-width="2.2" stroke-linecap="butt"/>
<line x1="168.16" y1="1406.47" x2="518.64" y2="1309.63" stroke="#e07070" stroke-width="2.3" stroke-linecap="butt"/>
<line x1="536.53" y1="1303.36" x2="729.77" y2="1220.64" stroke="#e07070" stroke-width="2.3" stroke-linecap="butt"/>
<circle cx="159" cy="1409" r="3.9" fill="#c00000"/>
<line x1="159" y1="1405.4" x2="159" y2="1412.6" stroke="#700000" stroke-width="1.6" stroke-linecap="butt"/>
<path d="M155 1363.3l8 8M155 1371.3l8 -8" stroke="#1818e0" stroke-width="1.4" fill="none"/>
<circle cx="527.8" cy="1307.1" r="3.9" fill="#c00000"/>
<line x1="527.8" y1="1303.5" x2="527.8" y2="1310.7" stroke="#700000" stroke-width="1.6" stroke-linecap="butt"/>
<path d="M523.8 1303.1l8 8M523.8 1311.1l8 -8" stroke="#1818e0" stroke-width="1.4" fill="none"/>
<circle cx="738.5" cy="1216.9" r="3.9" fill="#c00000"/>
<line x1="738.5" y1="1213.3" x2="738.5" y2="1220.5" stroke="#700000" stroke-width="1.6" stroke-linecap="butt"/>
<path d="M734.5 1248.4l8 8M734.5 1256.4l8 -8" stroke="#1818e0" stroke-width="1.4" fill="none"/>
<rect x="135.5" y="1115" width="626.4" height="385.9" fill="none" stroke="#5a5a5a" stroke-width="2.0"/>
<path d="M137.5 1115v7.5M139.2 1115v7.5M142.6 1115v7.5M162.9 1115v7.5M169.3 1115v7.5M170.5 1115v7.5M212.7 1115v7.5M238.7 1115v7.5M240.2 1115v7.5M241.7 1115v7.5M247.5 1115v7.5M267 1115v7.5M295.2 1115v7.5M307.7 1115v7.5M308.5 1115v7.5M332.2 1115v7.5M356.5 1115v7.5M384 1115v7.5M385 1115v7.5M412.4 1115v7.5M419.5 1115v7.5M420.3 1115v7.5M434.9 1115v7.5M476 1115v7.5M483.6 1115v7.5M491.2 1115v7.5M495.3 1115v7.5M508.2 1115v7.5M509 1115v7.5M519.5 1115v7.5M528.3 1115v7.5M532.3 1115v7.5M553.3 1115v7.5M565.8 1115v7.5M573.8 1115v7.5M592.2 1115v7.5M593 1115v7.5M609 1115v7.5M617.1 1115v7.5M617.9 1115v7.5M621.8 1115v7.5M622.3 1115v7.5M625.6 1115v7.5M625.9 1115v7.5M643.9 1115v7.5M647.5 1115v7.5M649.8 1115v7.5M651.2 1115v7.5M667 1115v7.5M673.3 1115v7.5M680.5 1115v7.5M682.3 1115v7.5M684.1 1115v7.5M696.3 1115v7.5M697.1 1115v7.5M709.4 1115v7.5M718 1115v7.5M726.5 1115v7.5M728.4 1115v7.5M732.9 1115v7.5M743.2 1115v7.5M747.3 1115v7.5M748.7 1115v7.5M756.3 1115v7.5" stroke="#555" stroke-width="1.5" fill="none"/>
<path d="M164 1500.9H701.9M164 1500.9v9M298.47 1500.9v9M432.95 1500.9v9M567.42 1500.9v9M701.9 1500.9v9" stroke="#4a4a4a" stroke-width="2" fill="none"/>
<text transform="translate(164,1535.5)" font-size="16" fill="#222" text-anchor="middle" stroke="#222" stroke-width="0.3">0.4</text>
<text transform="translate(298.47,1535.5)" font-size="16" fill="#222" text-anchor="middle" stroke="#222" stroke-width="0.3">0.5</text>
<text transform="translate(432.95,1535.5)" font-size="16" fill="#222" text-anchor="middle" stroke="#222" stroke-width="0.3">0.6</text>
<text transform="translate(567.42,1535.5)" font-size="16" fill="#222" text-anchor="middle" stroke="#222" stroke-width="0.3">0.7</text>
<text transform="translate(701.9,1535.5)" font-size="16" fill="#222" text-anchor="middle" stroke="#222" stroke-width="0.3">0.8</text>
<path d="M135.5 1421.6V1130.1M135.5 1421.6h-9M135.5 1324.43h-9M135.5 1227.27h-9M135.5 1130.1h-9" stroke="#4a4a4a" stroke-width="2" fill="none"/>
<text transform="translate(113.5,1421.6) rotate(-90)" font-size="16" fill="#222" text-anchor="middle" stroke="#222" stroke-width="0.3">0.4</text>
<text transform="translate(113.5,1324.43) rotate(-90)" font-size="16" fill="#222" text-anchor="middle" stroke="#222" stroke-width="0.3">0.6</text>
<text transform="translate(113.5,1227.27) rotate(-90)" font-size="16" fill="#222" text-anchor="middle" stroke="#222" stroke-width="0.3">0.8</text>
<text transform="translate(113.5,1130.1) rotate(-90)" font-size="16" fill="#222" text-anchor="middle" stroke="#222" stroke-width="0.3">1.0</text>
<text transform="translate(449.2,1571.5) scale(0.98,1)" font-size="15.6" fill="#222" text-anchor="middle" stroke="#222" stroke-width="0.3">Nomogram−Predicted Probability of 5−Year OS</text>
<text transform="translate(77,1307.95) rotate(-90) scale(0.98,1)" font-size="15.6" fill="#222" text-anchor="middle" stroke="#222" stroke-width="0.3">Actual 5−Year OS(proportion)</text>
</g>
<g>
<line x1="1057.5" y1="1370.33" x2="1675.6" y2="1260.54" stroke="#efefef" stroke-width="2.4" stroke-linecap="butt"/>
<line x1="1079.4" y1="1306.7" x2="1079.4" y2="1496.7" stroke="#808080" stroke-width="2.3" stroke-linecap="butt"/>
<line x1="1074.6" y1="1307.2" x2="1084.2" y2="1307.2" stroke="#777" stroke-width="2.2" stroke-linecap="butt"/>
<line x1="1074.6" y1="1496.7" x2="1084.2" y2="1496.7" stroke="#777" stroke-width="2.2" stroke-linecap="butt"/>
<line x1="1480.3" y1="1173.1" x2="1480.3" y2="1351.4" stroke="#808080" stroke-width="2.3" stroke-linecap="butt"/>
<line x1="1475.5" y1="1173.6" x2="1485.1" y2="1173.6" stroke="#777" stroke-width="2.2" stroke-linecap="butt"/>
<line x1="1475.5" y1="1351.4" x2="1485.1" y2="1351.4" stroke="#777" stroke-width="2.2" stroke-linecap="butt"/>
<line x1="1652.8" y1="1142.6" x2="1652.8" y2="1293.3" stroke="#808080" stroke-width="2.3" stroke-linecap="butt"/>
<line x1="1648" y1="1143.1" x2="1657.6" y2="1143.1" stroke="#777" stroke-width="2.2" stroke-linecap="butt"/>
<line x1="1648" y1="1293.3" x2="1657.6" y2="1293.3" stroke="#777" stroke-width="2.2" stroke-linecap="butt"/>
<line x1="1088.2" y1="1436.71" x2="1471.5" y2="1280.19" stroke="#e07070" stroke-width="2.3" stroke-linecap="butt"/>
<line x1="1489.36" y1="1273.73" x2="1643.74" y2="1224.77" stroke="#e07070" stroke-width="2.3" stroke-linecap="butt"/>
<circle cx="1079.4" cy="1440.3" r="3.9" fill="#c00000"/>
<line x1="1079.4" y1="1436.7" x2="1079.4" y2="1443.9" stroke="#700000" stroke-width="1.6" stroke-linecap="butt"/>
<path d="M1075.4 1420.9l8 8M1075.4 1428.9l8 -8" stroke="#1818e0" stroke-width="1.4" fill="none"/>
<circle cx="1480.3" cy="1276.6" r="3.9" fill="#c00000"/>
<line x1="1480.3" y1="1273" x2="1480.3" y2="1280.2" stroke="#700000" stroke-width="1.6" stroke-linecap="butt"/>
<path d="M1476.3 1286l8 8M1476.3 1294l8 -8" stroke="#1818e0" stroke-width="1.4" fill="none"/>
<circle cx="1652.8" cy="1221.9" r="3.9" fill="#c00000"/>
<line x1="1652.8" y1="1218.3" x2="1652.8" y2="1225.5" stroke="#700000" stroke-width="1.6" stroke-linecap="butt"/>
<path d="M1648.8 1228.8l8 8M1648.8 1236.8l8 -8" stroke="#1818e0" stroke-width="1.4" fill="none"/>
<rect x="1057.5" y="1128.4" width="618.1" height="382.9" fill="none" stroke="#5a5a5a" stroke-width="2.0"/>
<path d="M1066.4 1128.4v7.5M1091 1128.4v7.5M1224.1 1128.4v7.5M1224.9 1128.4v7.5M1234.4 1128.4v7.5M1279.4 1128.4v7.5M1285.6 1128.4v7.5M1299.9 1128.4v7.5M1314.8 1128.4v7.5M1326.9 1128.4v7.5M1360 1128.4v7.5M1390.5 1128.4v7.5M1405.4 1128.4v7.5M1427.7 1128.4v7.5M1438 1128.4v7.5M1441.7 1128.4v7.5M1444.5 1128.4v7.5M1445.3 1128.4v7.5M1466.8 1128.4v7.5M1477.6 1128.4v7.5M1500.4 1128.4v7.5M1503.1 1128.4v7.5M1506.9 1128.4v7.5M1520.5 1128.4v7.5M1524.6 1128.4v7.5M1529.8 1128.4v7.5M1530.6 1128.4v7.5M1538.5 1128.4v7.5M1546.5 1128.4v7.5M1558.5 1128.4v7.5M1565.5 1128.4v7.5M1574.5 1128.4v7.5M1581.4 1128.4v7.5M1587.5 1128.4v7.5M1588.3 1128.4v7.5M1605.6 1128.4v7.5M1608.4 1128.4v7.5M1653.1 1128.4v7.5M1669.8 1128.4v7.5" stroke="#555" stroke-width="1.5" fill="none"/>
<path d="M1111.1 1511.3H1669.5M1111.1 1511.3v9M1222.78 1511.3v9M1334.46 1511.3v9M1446.14 1511.3v9M1557.82 1511.3v9M1669.5 1511.3v9" stroke="#4a4a4a" stroke-width="2" fill="none"/>
<text transform="translate(1111.1,1544.5) scale(0.96,1)" font-size="16" fill="#222" text-anchor="middle" stroke="#222" stroke-width="0.3">0.45</text>
<text transform="translate(1222.78,1544.5) scale(0.96,1)" font-size="16" fill="#222" text-anchor="middle" stroke="#222" stroke-width="0.3">0.50</text>
<text transform="translate(1334.46,1544.5) scale(0.96,1)" font-size="16" fill="#222" text-anchor="middle" stroke="#222" stroke-width="0.3">0.55</text>
<text transform="translate(1446.14,1544.5) scale(0.96,1)" font-size="16" fill="#222" text-anchor="middle" stroke="#222" stroke-width="0.3">0.60</text>
<text transform="translate(1557.82,1544.5) scale(0.96,1)" font-size="16" fill="#222" text-anchor="middle" stroke="#222" stroke-width="0.3">0.65</text>
<text transform="translate(1669.5,1544.5) scale(0.96,1)" font-size="16" fill="#222" text-anchor="middle" stroke="#222" stroke-width="0.3">0.70</text>
<path d="M1057.5 1460V1142.6M1057.5 1460h-9M1057.5 1380.65h-9M1057.5 1301.3h-9M1057.5 1221.95h-9M1057.5 1142.6h-9" stroke="#4a4a4a" stroke-width="2" fill="none"/>
<text transform="translate(1036.5,1460) rotate(-90)" font-size="16" fill="#222" text-anchor="middle" stroke="#222" stroke-width="0.3">0.2</text>
<text transform="translate(1036.5,1380.65) rotate(-90)" font-size="16" fill="#222" text-anchor="middle" stroke="#222" stroke-width="0.3">0.4</text>
<text transform="translate(1036.5,1301.3) rotate(-90)" font-size="16" fill="#222" text-anchor="middle" stroke="#222" stroke-width="0.3">0.6</text>
<text transform="translate(1036.5,1221.95) rotate(-90)" font-size="16" fill="#222" text-anchor="middle" stroke="#222" stroke-width="0.3">0.8</text>
<text transform="translate(1036.5,1142.6) rotate(-90)" font-size="16" fill="#222" text-anchor="middle" stroke="#222" stroke-width="0.3">1.0</text>
<text transform="translate(1367.05,1580.5) scale(0.98,1)" font-size="15.6" fill="#222" text-anchor="middle" stroke="#222" stroke-width="0.3">Nomogram−Predicted Probability of 5−Year RFS</text>
<text transform="translate(998.5,1319.85) rotate(-90) scale(0.98,1)" font-size="15.6" fill="#222" text-anchor="middle" stroke="#222" stroke-width="0.3">Actual 5−Year RFS(proportion)</text>
</g>
</g>
</svg>
</body></html>
